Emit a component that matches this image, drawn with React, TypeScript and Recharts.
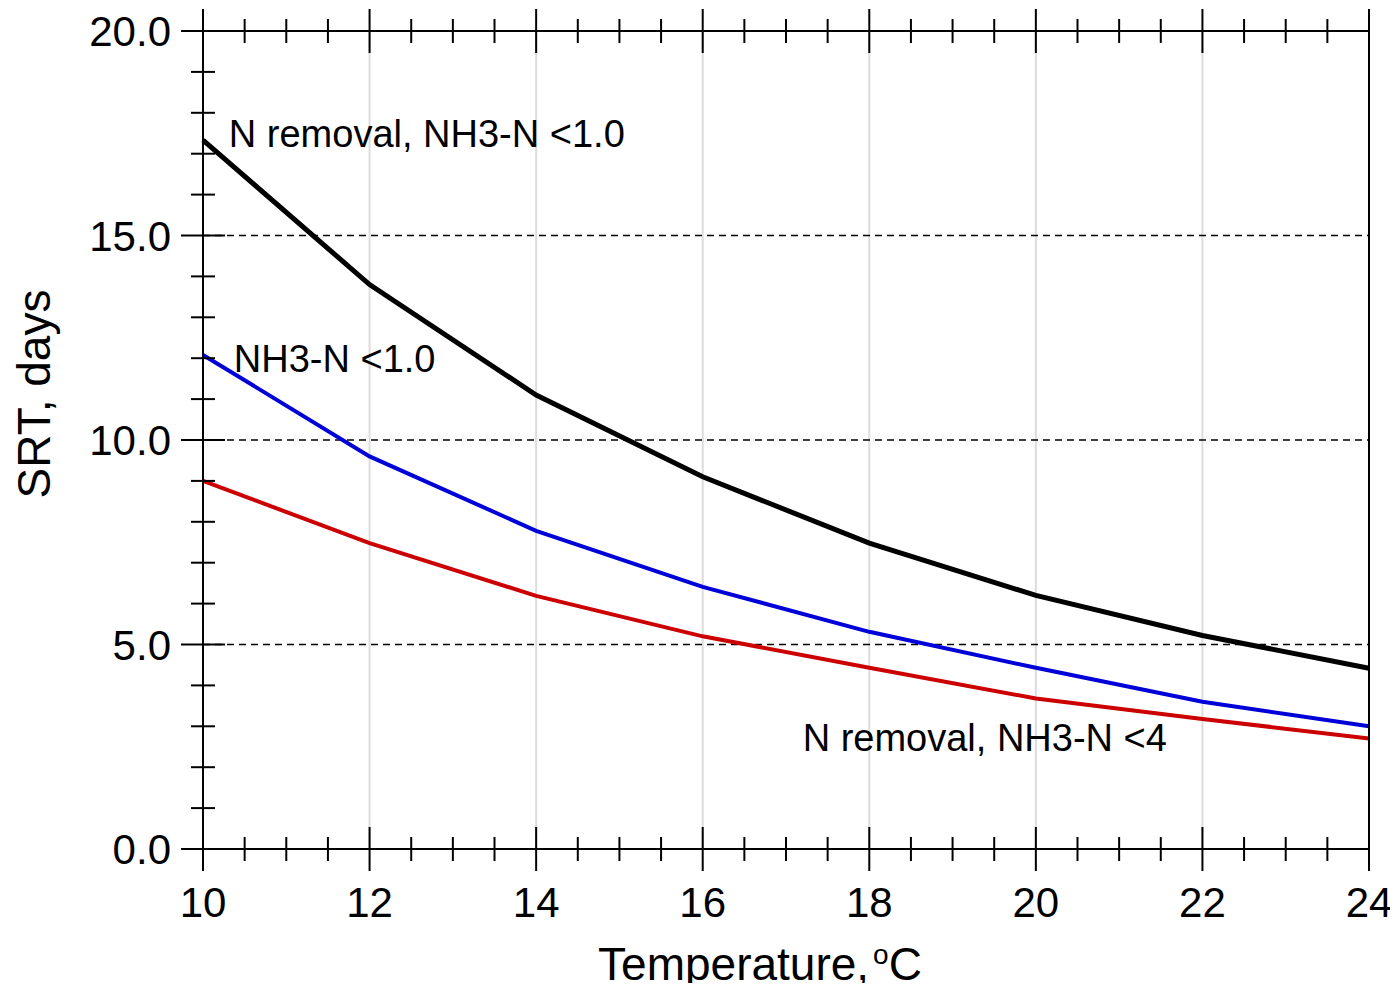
import React from "react";
import {
  LineChart,
  Line,
  XAxis,
  YAxis,
  ReferenceLine,
  ReferenceDot,
} from "recharts";

// ---- data ----
const temperature = [10, 12, 14, 16, 18, 20, 22, 24];
const srtNRemovalNH3Lt1 = [17.33, 13.8, 11.1, 9.1, 7.48, 6.2, 5.22, 4.42];
const srtNH3Lt1 = [12.08, 9.6, 7.78, 6.41, 5.31, 4.43, 3.6, 3.0];
const srtNRemovalNH3Lt4 = [9.0, 7.48, 6.19, 5.2, 4.43, 3.68, 3.18, 2.7];

const xMajorTicks = [10, 12, 14, 16, 18, 20, 22, 24];
const xMinorTicks = [
  10.5, 11, 11.5, 12.5, 13, 13.5, 14.5, 15, 15.5, 16.5, 17, 17.5, 18.5, 19,
  19.5, 20.5, 21, 21.5, 22.5, 23, 23.5,
];
const xTickLabels = ["10", "12", "14", "16", "18", "20", "22", "24"];
const yMajorTicks = [0, 5, 10, 15, 20];
const yMinorTicks = [1, 2, 3, 4, 6, 7, 8, 9, 11, 12, 13, 14, 16, 17, 18, 19];
const yTickLabels = ["0.0", "5.0", "10.0", "15.0", "20.0"];
const xGridValues = [12, 14, 16, 18, 20, 22];
const yGridValues = [5, 10, 15, 20];

const annotations = [
  { x: 10.31, y: 17.16, text: "N removal, NH3-N <1.0" },
  { x: 10.37, y: 11.66, text: "NH3-N <1.0" },
  { x: 17.2, y: 2.4, text: "N removal, NH3-N <4" },
];

const data = temperature.map((t, i) => ({
  t,
  a: srtNRemovalNH3Lt1[i],
  b: srtNH3Lt1[i],
  c: srtNRemovalNH3Lt4[i],
}));

const FONT = "'Liberation Sans', Arial, sans-serif";
const allX = [...xMajorTicks, ...xMinorTicks].sort((p, q) => p - q);
const allY = [...yMajorTicks, ...yMinorTicks].sort((p, q) => p - q);

const AX = 1; // axis thickness in layout
const W = 1390;
const H = 983;

const makeTick = (orient: string) => (props: any) => {
  const { x, y, payload } = props;
  const v = payload.value;
  const horiz = orient === "bottom" || orient === "top";
  const majors = horiz ? xMajorTicks : yMajorTicks;
  const mi = majors.indexOf(v);
  const major = mi >= 0;
  const len = major ? 22 : 12;
  return (
    <g>
      {horiz ? (
        <line x1={x} x2={x} y1={y - len} y2={y + len} stroke="#000" strokeWidth={2} />
      ) : (
        <line x1={x - len} x2={x + len} y1={y} y2={y} stroke="#000" strokeWidth={2} />
      )}
      {major && orient === "bottom" && (
        <text x={x} y={y + 68} textAnchor="middle" fontSize={42} fontFamily={FONT} fill="#000">
          {xTickLabels[mi]}
        </text>
      )}
      {major && orient === "left" && (
        <text x={x - 32} y={y} dy="0.36em" textAnchor="end" fontSize={42} fontFamily={FONT} fill="#000">
          {yTickLabels[mi]}
        </text>
      )}
    </g>
  );
};

const XTitle = (props: any) => {
  const vb = props.viewBox;
  const cx = vb.x + vb.width / 2 - 26;
  const by = vb.y + 131;
  return (
    <text x={cx} y={by} textAnchor="middle" fontSize={46} fontFamily={FONT} fill="#000">
      Temperature,
      <tspan dx={4} dy={-16} fontSize={28}>o</tspan>
      <tspan dy={16}>C</tspan>
    </text>
  );
};

const YTitle = (props: any) => {
  const vb = props.viewBox;
  const cx = 42;
  const cy = vb.y + vb.height / 2 - 46;
  return (
    <text
      x={cx}
      y={cy}
      textAnchor="middle"
      fontSize={46}
      fontFamily={FONT}
      fill="#000"
      transform={`rotate(-90, ${cx}, ${cy})`}
    >
      SRT, days
    </text>
  );
};

export default function App() {
  return (
    <div style={{ width: W, height: H, background: "#fff", marginRight: -8, marginBottom: -8 }}>
      <LineChart
        width={W}
        height={H}
        data={data}
        margin={{ top: 23 - AX, right: W - 1361 - AX, bottom: H - 841 - AX, left: 195 - AX }}
      >
        {xGridValues.map((v) => (
          <ReferenceLine key={"vx" + v} x={v} stroke="#dcdcdc" strokeWidth={2} />
        ))}
        {yGridValues.map((v) => (
          <ReferenceLine key={"hy" + v} y={v} stroke="#000" strokeWidth={1.5} strokeDasharray="7 5" />
        ))}
        <Line type="linear" dataKey="a" stroke="#000000" strokeWidth={5} dot={false} isAnimationActive={false} />
        <Line type="linear" dataKey="b" stroke="#0000d8" strokeWidth={4} dot={false} isAnimationActive={false} />
        <Line type="linear" dataKey="c" stroke="#cc0000" strokeWidth={4} dot={false} isAnimationActive={false} />
        <XAxis
          dataKey="t"
          type="number"
          domain={[10, 24]}
          ticks={allX}
          interval={0}
          height={AX}
          tickSize={0}
          tickMargin={0}
          tickLine={false}
          axisLine={{ stroke: "#000", strokeWidth: 2 }}
          tick={makeTick("bottom")}
          label={{ content: XTitle }}
        />
        <XAxis
          xAxisId="top"
          orientation="top"
          dataKey="t"
          type="number"
          domain={[10, 24]}
          ticks={allX}
          interval={0}
          height={AX}
          tickSize={0}
          tickMargin={0}
          tickLine={false}
          axisLine={{ stroke: "#000", strokeWidth: 2 }}
          tick={makeTick("top")}
        />
        <YAxis
          type="number"
          domain={[0, 20]}
          ticks={allY}
          interval={0}
          width={AX}
          tickSize={0}
          tickMargin={0}
          tickLine={false}
          axisLine={{ stroke: "#000", strokeWidth: 2 }}
          tick={makeTick("left")}
          label={{ content: YTitle }}
        />
        <YAxis
          yAxisId="right"
          orientation="right"
          type="number"
          domain={[0, 20]}
          ticks={allY}
          interval={0}
          width={AX}
          tickSize={0}
          tickMargin={0}
          tickLine={false}
          axisLine={{ stroke: "#000", strokeWidth: 2 }}
          tick={makeTick("right")}
        />
        {annotations.map((a, i) => (
          <ReferenceDot
            key={"an" + i}
            x={a.x}
            y={a.y}
            r={0}
            shape={(p: any) => (
              <text x={p.cx} y={p.cy} fontSize={38} fontFamily={FONT} fill="#000">
                {a.text}
              </text>
            )}
          />
        ))}
      </LineChart>
    </div>
  );
}
